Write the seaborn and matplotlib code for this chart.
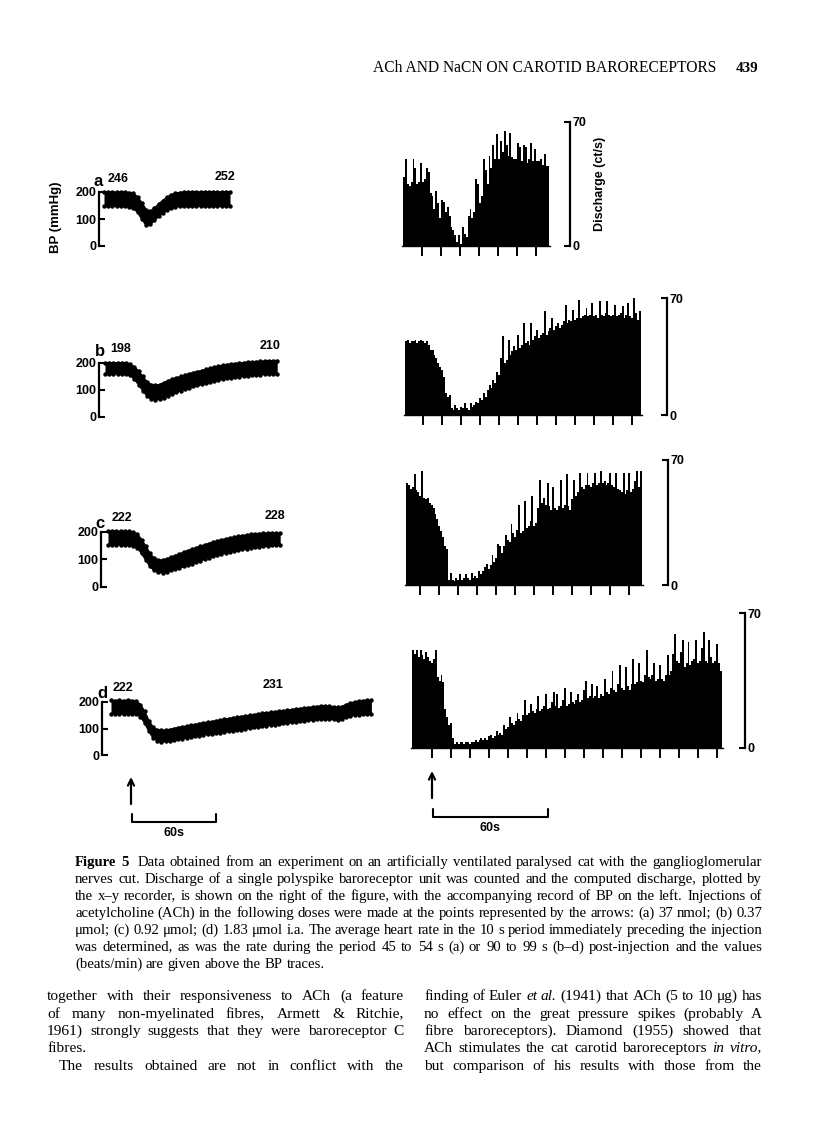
import math
import numpy as np
import pandas as pd
import matplotlib
matplotlib.use('Agg')
import matplotlib.pyplot as plt
from matplotlib.font_manager import FontProperties
import seaborn as sns

sns.set_theme(style='white')
plt.rcParams['font.family'] = ['Liberation Sans', 'DejaVu Sans']

W, H = 816, 1142
fig = plt.figure(figsize=(W / 100, H / 100), dpi=100)

# ---------------- data ----------------
# BP traces (mmHg), sampled every 3 s: systolic (top) and diastolic (bottom) envelope
bp_a_top = [200, 200, 200, 199, 200, 199, 198, 195, 182, 160, 135, 128, 140, 155, 168, 180,
            190, 195, 198, 200, 200, 200, 200, 200, 200, 200, 200, 200, 200, 200, 200]
bp_a_bot = [148, 147, 148, 148, 147, 147, 146, 140, 125, 100, 78, 80, 95, 110, 122, 133,
            140, 145, 147, 148, 148, 148, 148, 148, 148, 148, 148, 148, 148, 148, 148]
bp_b_top = [200, 201, 200, 201, 200, 200, 196, 185, 170, 150, 130, 120, 117, 120, 127, 134,
            140, 145, 150, 155, 160, 164, 168, 172, 176, 180, 184, 188, 191, 194, 196, 198,
            200, 201, 203, 204, 205, 206, 207, 208, 208, 209]
bp_b_bot = [160, 161, 160, 161, 160, 160, 155, 140, 120, 98, 78, 67, 64, 66, 72, 79,
            86, 92, 98, 103, 108, 113, 117, 121, 125, 129, 133, 137, 140, 143, 145, 147,
            149, 151, 153, 155, 156, 157, 158, 159, 160, 160]
bp_c_top = [202, 203, 202, 203, 202, 202, 199, 192, 172, 148, 122, 104, 98, 98, 102, 108,
            114, 120, 126, 132, 137, 142, 148, 153, 158, 163, 167, 171, 175, 178, 181, 184,
            187, 189, 191, 193, 194, 195, 196, 196, 195, 195]
bp_c_bot = [153, 154, 153, 154, 153, 153, 150, 142, 122, 98, 75, 60, 53, 52, 55, 60,
            65, 70, 75, 80, 85, 90, 96, 101, 106, 111, 116, 120, 124, 128, 131, 134,
            137, 140, 142, 144, 146, 148, 150, 151, 152, 153]
bp_d_top = [206, 205, 206, 205, 206, 205, 204, 190, 165, 130, 105, 95, 93, 94, 96, 100,
            103, 106, 109, 112, 115, 118, 121, 124, 126, 129, 132, 134, 137, 140, 142, 145,
            147, 150, 152, 155, 157, 159, 161, 163, 165, 167, 169, 171, 173, 175, 177, 179,
            181, 183, 184, 185, 184, 182, 180, 183, 190, 196, 200, 203, 205, 206, 206]
bp_d_bot = [156, 155, 156, 155, 156, 155, 154, 145, 122, 90, 65, 54, 50, 51, 53, 56,
            59, 62, 65, 68, 71, 73, 76, 78, 80, 82, 84, 87, 89, 91, 94, 96,
            99, 101, 104, 106, 109, 111, 113, 115, 117, 119, 121, 123, 125, 127, 129, 131,
            133, 135, 136, 137, 136, 134, 132, 136, 142, 147, 150, 152, 153, 154, 154]

# Discharge (ct/s), 1-s bins
dis_a = [39, 49, 35, 34, 36, 49, 44, 35, 36, 47, 36, 38, 44, 42, 30, 28, 21, 31, 24, 16,
         26, 25, 19, 22, 17, 11, 9, 6, 2, 6, 1, 11, 7, 5, 17, 21, 16, 19, 38, 35,
         24, 28, 49, 43, 35, 51, 44, 57, 49, 63, 49, 59, 53, 65, 57, 51, 64, 50, 49, 49,
         58, 56, 48, 57, 56, 47, 49, 58, 48, 55, 48, 48, 49, 46, 52, 45, 45]
dis_b = [44, 45, 43, 44, 44, 45, 43, 44, 45, 44, 43, 44, 42, 39, 39, 36, 34, 31, 29, 27,
         23, 13, 11, 12, 4, 3, 6, 4, 3, 5, 4, 7, 4, 3, 7, 5, 6, 8, 7, 10,
         9, 13, 11, 15, 18, 16, 21, 19, 26, 24, 34, 47, 31, 33, 45, 36, 38, 41, 39, 48,
         40, 42, 55, 43, 44, 42, 55, 45, 47, 51, 46, 48, 49, 62, 48, 50, 52, 58, 51, 53,
         55, 52, 54, 56, 66, 55, 57, 56, 63, 57, 58, 69, 58, 59, 60, 64, 59, 60, 67, 59,
         60, 58, 68, 60, 59, 61, 68, 60, 59, 60, 66, 59, 60, 61, 65, 58, 60, 67, 59, 58,
         70, 61, 57, 62]
dis_c = [57, 56, 54, 55, 62, 53, 52, 50, 64, 49, 48, 49, 46, 45, 43, 40, 37, 33, 30, 27,
         22, 20, 3, 7, 3, 2, 4, 3, 6, 3, 4, 6, 4, 3, 7, 4, 5, 4, 8, 6,
         8, 10, 12, 9, 11, 17, 13, 15, 23, 22, 18, 22, 28, 25, 24, 34, 29, 27, 31, 45,
         29, 30, 47, 32, 33, 36, 50, 33, 35, 43, 59, 46, 49, 45, 57, 44, 42, 55, 43, 42,
         44, 59, 43, 45, 62, 44, 42, 48, 59, 50, 52, 63, 55, 54, 56, 63, 56, 55, 57, 63,
         56, 57, 64, 57, 58, 56, 57, 63, 56, 55, 63, 54, 53, 52, 63, 51, 53, 63, 52, 54,
         58, 64, 55, 64]
dis_d = [51, 49, 51, 47, 51, 48, 46, 50, 47, 45, 44, 46, 51, 37, 35, 38, 34, 20, 16, 12,
         13, 5, 2, 3, 2, 3, 3, 2, 3, 3, 2, 3, 3, 4, 3, 4, 5, 4, 5, 4,
         6, 7, 5, 6, 9, 7, 8, 7, 12, 10, 11, 16, 13, 12, 14, 18, 15, 14, 17, 25,
         17, 18, 23, 19, 18, 20, 27, 19, 20, 22, 28, 20, 21, 24, 29, 22, 28, 21, 22, 25,
         31, 22, 23, 29, 24, 23, 25, 28, 24, 25, 30, 35, 26, 27, 33, 26, 27, 32, 26, 28,
         27, 36, 29, 28, 31, 40, 30, 29, 33, 43, 31, 30, 42, 32, 30, 33, 46, 33, 34, 44,
         35, 34, 38, 51, 37, 36, 38, 44, 35, 36, 43, 36, 35, 38, 48, 38, 40, 49, 59, 45,
         44, 50, 56, 42, 44, 55, 43, 45, 46, 56, 44, 45, 52, 60, 45, 44, 56, 47, 44, 45,
         54, 44, 40]

panel_letters = ['a', 'b', 'c', 'd']
hr_before = ['246', '198', '222', '222']
hr_after = ['252', '210', '228', '231']
bp_ticks = [0, 100, 200]
dis_ticks = [0, 70]

PPS_BP = 1.4   # px per second, BP records
PPS_D = 1.9    # px per second, discharge records
DT_BP = 3      # s between BP samples


def rect(x0, y0, x1, y1):
    return [x0 / W, 1 - y1 / H, (x1 - x0) / W, (y1 - y0) / H]


SANS = ['Liberation Sans', 'DejaVu Sans']
SERIF = ['Liberation Serif', 'DejaVu Serif']


def bp_panel(top, bot, spine_x, y0, trace_x0, px200=54):
    t = np.arange(len(top)) * DT_BP
    trace_x1 = trace_x0 + t[-1] * PPS_BP
    x_right = trace_x1 + 6
    ytop = y0 - px200 * 240 / 200
    ax = fig.add_axes(rect(spine_x, ytop, x_right, y0))
    ax.patch.set_alpha(0)
    ax.fill_between(t, bot, top, color='black', lw=0)
    sns.lineplot(x=t, y=top, ax=ax, color='black', lw=1.2, marker='o',
                 markersize=3.2, markeredgewidth=0)
    sns.lineplot(x=t, y=bot, ax=ax, color='black', lw=1.2, marker='o',
                 markersize=3.2, markeredgewidth=0)
    ax.set_xlim(-(trace_x0 - spine_x) / PPS_BP, (x_right - trace_x0) / PPS_BP)
    ax.set_ylim(0, 240)
    for s in ['top', 'right', 'bottom']:
        ax.spines[s].set_visible(False)
    ax.spines['left'].set_bounds(0, 200)
    ax.spines['left'].set_linewidth(1.6)
    ax.spines['left'].set_color('black')
    ax.set_xticks([])
    ax.set_yticks(bp_ticks)
    ax.set_yticklabels([str(v) for v in bp_ticks], fontweight='bold', family=SANS)
    ax.tick_params(axis='y', direction='in', length=4, width=1.5, labelsize=9,
                   pad=2, colors='black', left=True)
    ax.set_xlabel('')
    ax.set_ylabel('')
    return ax


def dis_panel(vals, x_s, x_r, y_base, y70, tick0, ntick):
    n = len(vals)
    ax = fig.add_axes(rect(x_s, y70, x_r, y_base))
    ax.patch.set_alpha(0)
    df = pd.DataFrame({'t': np.arange(n) + 0.5, 'v': vals})
    sns.barplot(data=df, x='t', y='v', native_scale=True, width=1.0, color='black',
                saturation=1, linewidth=0, errorbar=None, ax=ax)
    ax.set_xlim(0, (x_r - x_s) / PPS_D)
    ax.set_ylim(0, 70)
    ax.spines['left'].set_visible(False)
    ax.spines['top'].set_visible(False)
    ax.spines['bottom'].set_bounds(-0.5, n + 0.5)
    ax.spines['bottom'].set_linewidth(1.0)
    ax.spines['bottom'].set_color('black')
    ax.spines['right'].set_bounds(0, 70)
    ax.spines['right'].set_linewidth(1.6)
    ax.spines['right'].set_color('black')
    ax.set_xticks(tick0 + 10 * np.arange(ntick))
    ax.tick_params(axis='x', direction='out', length=7, width=1.4, labelbottom=False,
                   colors='black', bottom=True)
    ax.yaxis.tick_right()
    ax.set_yticks(dis_ticks)
    ax.set_yticklabels([str(v) for v in dis_ticks], fontweight='bold', family=SANS)
    ax.tick_params(axis='y', direction='in', length=4, width=1.5, labelsize=9, pad=2,
                   colors='black', right=True, left=False)
    ax.set_xlabel('')
    ax.set_ylabel('')
    return ax


# BP panels
bp_panel(bp_a_top, bp_a_bot, 99, 246, 104)
bp_panel(bp_b_top, bp_b_bot, 99, 417, 105)
bp_panel(bp_c_top, bp_c_bot, 101, 587, 108, px200=55)
bp_panel(bp_d_top, bp_d_bot, 102, 755, 111, px200=53)

# Discharge panels
dis_panel(dis_a, 403, 570, 246, 122, 10, 7)
dis_panel(dis_b, 405, 667, 415, 298, 9.5, 12)
dis_panel(dis_c, 406, 668, 585, 460, 7.4, 12)
dis_panel(dis_d, 412, 745, 748, 613, 10.5, 16)

# ---------------- page overlay ----------------
pg = fig.add_axes([0, 0, 1, 1])
pg.set_xlim(0, W)
pg.set_ylim(H, 0)
pg.axis('off')
pg.patch.set_alpha(0)

renderer = fig.canvas.get_renderer()

# header
pg.text(373, 72, 'ACh AND NaCN ON CAROTID BARORECEPTORS', family=SERIF, fontsize=11.2,
        va='baseline', ha='left', color='black')
pg.text(736, 72, '439', family=SERIF, fontsize=11, fontweight='bold', va='baseline',
        ha='left', color='black')

# panel letters and heart rates
letter_pos = [(98, 181), (100, 352), (100, 523), (102, 693)]
hrb_pos = [(108, 179), (110, 349), (112, 518), (113, 688)]
hra_pos = [(215, 177), (260, 346), (265, 516), (263, 685)]
for L, hb, ha_, lp, bp_, ap in zip(panel_letters, hr_before, hr_after, letter_pos, hrb_pos, hra_pos):
    pg.text(lp[0], lp[1], L, family=SANS, fontsize=12, fontweight='bold', ha='center',
            va='center', color='black')
    pg.text(bp_[0], bp_[1], hb, family=SANS, fontsize=9, fontweight='bold', ha='left',
            va='center', color='black')
    pg.text(ap[0], ap[1], ha_, family=SANS, fontsize=9, fontweight='bold', ha='left',
            va='center', color='black')

pg.text(56, 217, 'BP (mmHg)', family=SANS, fontsize=9.5, fontweight='bold', rotation=90,
        ha='center', va='center', color='black')
pg.text(600, 184, 'Discharge (ct/s)', family=SANS, fontsize=9, fontweight='bold',
        rotation=90, ha='center', va='center', color='black')

# arrows
for x, y0, y1 in [(131, 804, 777), (432, 798, 771)]:
    pg.annotate('', xy=(x, y1), xytext=(x, y0),
                arrowprops=dict(arrowstyle='->', lw=1.6, color='black', mutation_scale=11,
                                shrinkA=0, shrinkB=0))
# 60 s scale bars
for xa, xb, yb in [(132, 216, 822), (433, 548, 817)]:
    pg.plot([xa, xa, xb, xb], [yb - 8, yb, yb, yb - 8], color='black', lw=1.5)
    pg.text((xa + xb) / 2, yb + 11, '60s', family=SANS, fontsize=9, fontweight='bold',
            ha='center', va='center', color='black')


# ---------------- justified text ----------------
def parse(line):
    out = []
    for tk in line.split(' '):
        kw = {}
        if tk.startswith('#'):
            tk = tk[1:]
            kw['weight'] = 'bold'
        elif tk.startswith('*'):
            tk = tk[1:]
            kw['style'] = 'italic'
        out.append((tk, kw))
    return out


def fp_for(size, kw):
    return FontProperties(family=SERIF, size=size, **kw)


def measure(tk, fp):
    if tk == '':
        return 0.0, 0.0, 0.0
    return renderer.get_text_width_height_descent(tk, fp, ismath=False)


def natural_width(line, size):
    toks = parse(line)
    tot = 0.0
    for tk, kw in toks:
        tot += measure(tk, fp_for(size, kw))[0]
    return tot + (len(toks) - 1) * size * 100 / 72 * 0.25


def fit_size(lines, width, s0=10.0):
    mx = max(natural_width(l, s0) for l in lines)
    return s0 * width / mx


def set_line(line, x0, x1, B, size, justify=True):
    toks = parse(line)
    items = []
    for tk, kw in toks:
        fp = fp_for(size, kw)
        w, h, d = measure(tk, fp)
        off = -d + math.floor(h) - math.floor(h - d)
        items.append((tk, fp, w, off))
    space = size * 100 / 72 * 0.25
    tot = sum(it[2] for it in items)
    if justify and len(items) > 1:
        gap = max((x1 - x0 - tot) / (len(items) - 1), space * 0.4)
    else:
        gap = space
    x = x0
    for tk, fp, w, off in items:
        if tk:
            pg.text(x, B + off, tk, fontproperties=fp, va='baseline', ha='left',
                    color='black')
        x += w + gap


caption = [
    '#Figure #5  Data obtained from an experiment on an artificially ventilated paralysed cat with the ganglioglomerular',
    'nerves cut. Discharge of a single polyspike baroreceptor unit was counted and the computed discharge, plotted by',
    'the x\u2013y recorder, is shown on the right of the figure, with the accompanying record of BP on the left. Injections of',
    'acetylcholine (ACh) in the following doses were made at the points represented by the arrows: (a) 37 nmol; (b) 0.37',
    '\u03bcmol; (c) 0.92 \u03bcmol; (d) 1.83 \u03bcmol i.a. The average heart rate in the 10 s period immediately preceding the injection',
    'was determined, as was the rate during the period 45 to 54 s (a) or 90 to 99 s (b\u2013d) post-injection and the values',
    '(beats/min) are given above the BP traces.',
]
cap_size = fit_size(caption[:-1], 762 - 75)
for i, line in enumerate(caption):
    set_line(line, 75, 762, 866 + 17 * i, cap_size, justify=(i < len(caption) - 1))

left_col = [
    ('together with their responsiveness to ACh (a feature', 0, True),
    ('of many non-myelinated fibres, Armett & Ritchie,', 0, True),
    ('1961) strongly suggests that they were baroreceptor C', 0, True),
    ('fibres.', 0, False),
    ('The results obtained are not in conflict with the', 12, True),
]
right_col = [
    'finding of Euler *et *al. (1941) that ACh (5 to 10 \u03bcg) has',
    'no effect on the great pressure spikes (probably A',
    'fibre baroreceptors). Diamond (1955) showed that',
    'ACh stimulates the cat carotid baroreceptors *in *vitro,',
    'but comparison of his results with those from the',
]
body_size = min(fit_size([l for l, _, j in left_col if j], 404 - 47),
                fit_size(right_col, 762 - 424))
for i, (line, ind, j) in enumerate(left_col):
    set_line(line, 47 + ind, 404, round(1000 + 17.5 * i), body_size, justify=j)
for i, line in enumerate(right_col):
    set_line(line, 424, 762, round(1000 + 17.5 * i), body_size, justify=True)

fig.savefig('out.png', dpi=100, facecolor='white')
